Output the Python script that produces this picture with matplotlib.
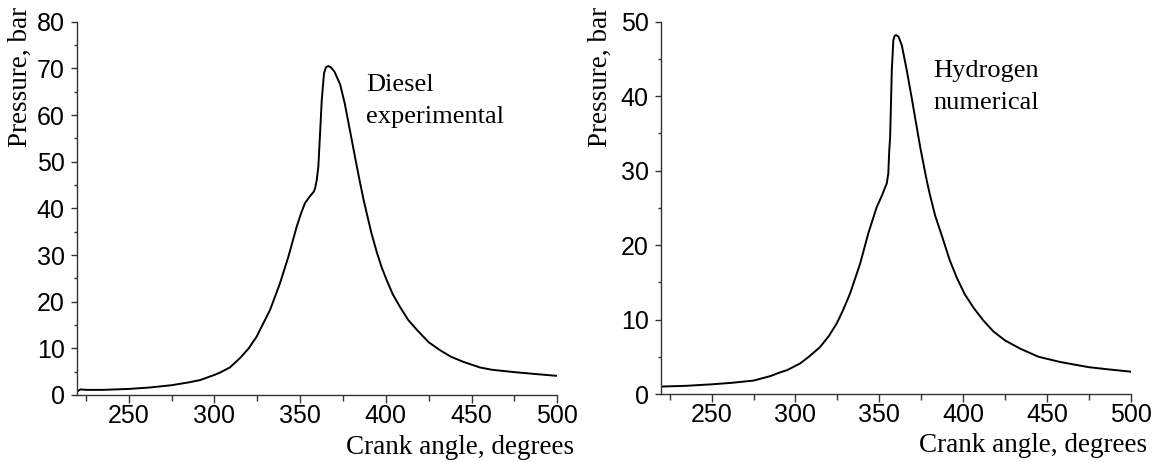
import matplotlib
matplotlib.use("Agg")
import matplotlib.pyplot as plt
from matplotlib.ticker import MultipleLocator

# Diesel, experimental (left panel)
diesel_angle = [220, 222, 225, 235, 250, 262, 275, 285, 291.6, 300, 303.2, 309,
                314.9, 320, 324.6, 328, 332.4, 338.2, 343.1, 348, 350.5, 352.8,
                355.5, 358.0, 358.7, 359.7, 360.6, 361.6, 362.6, 363.9, 365.0,
                366.4, 368.0, 370.0, 373.3, 376.0, 379.1, 382.0, 384.5, 386.9,
                388.8, 391.5, 394.7, 397.5, 400.5, 404.0, 408.2, 413.0, 418,
                425, 431.6, 438, 445.2, 454.9, 462, 475, 487, 500]
diesel_p = [0.8, 1.2, 1.1, 1.1, 1.3, 1.6, 2.1, 2.7, 3.2, 4.3, 4.8, 5.9,
            7.9, 10.0, 12.5, 15.0, 18.2, 23.9, 29.6, 36.1, 38.9, 41.1,
            42.5, 43.6, 44.3, 46.1, 48.9, 56.0, 63.2, 68.9, 70.2,
            70.5, 70.2, 69.3, 66.6, 62.5, 56.6, 51.0, 46.3, 42.0,
            39.0, 34.8, 30.6, 27.4, 24.6, 21.6, 18.9, 16.1, 14.0,
            11.3, 9.6, 8.2, 7.1, 5.9, 5.4, 4.9, 4.5, 4.1]

# Hydrogen, numerical (right panel)
h2_angle = [220, 235, 250, 262, 275, 285, 290.8, 295, 302.8, 308, 314.7, 320,
            324.7, 328.5, 332.6, 338.6, 343.5, 348.5, 351.5, 354.5, 355.4,
            356.0, 356.5, 357.5, 358.4, 359.2, 360.0, 361.5, 363.5, 366.4,
            369.5, 372.4, 374.4, 378.4, 380.3, 383.3, 388.3, 392, 396.3, 401,
            406.2, 412, 418.1, 425, 434, 445, 457.9, 475, 487, 500]
h2_p = [1.0, 1.1, 1.3, 1.5, 1.8, 2.4, 2.9, 3.2, 4.1, 5.0, 6.3, 7.8,
        9.5, 11.3, 13.5, 17.5, 21.6, 25.1, 26.6, 28.3, 29.6,
        32.8, 34.5, 43.5, 47.5, 48.1, 48.2, 48.0, 46.8, 43.5,
        39.6, 35.8, 33.2, 28.6, 26.7, 24.0, 20.6, 18.0, 15.6, 13.4,
        11.6, 9.9, 8.4, 7.2, 6.1, 5.0, 4.3, 3.6, 3.3, 3.0]

SANS = "Liberation Sans"
SERIF = "Liberation Serif"
AXC = "#333333"

fig = plt.figure(figsize=(11.57, 4.62), dpi=100)
W, H = 1157, 462
ax1 = fig.add_axes([77.3 / W, (H - 395) / H, 480 / W, 373.3 / H])
ax2 = fig.add_axes([661.3 / W, (H - 394) / H, 469.4 / W, 372.3 / H])


def style(ax, ymax, label_x, note, note_xy):
    ax.set_xlim(220, 500)
    ax.set_ylim(0, ymax)
    ax.xaxis.set_major_locator(MultipleLocator(50))
    ax.xaxis.set_minor_locator(MultipleLocator(25))
    ax.yaxis.set_major_locator(MultipleLocator(10))
    ax.yaxis.set_minor_locator(MultipleLocator(5))
    for s in ["top", "right"]:
        ax.spines[s].set_visible(False)
    for s in ["left", "bottom"]:
        ax.spines[s].set_color(AXC)
        ax.spines[s].set_linewidth(1.0)
    ax.tick_params(axis="x", which="major", direction="out", length=5.5,
                   width=1, color=AXC, pad=1, labelsize=18)
    ax.tick_params(axis="x", which="minor", direction="out", length=4,
                   width=1, color=AXC)
    ax.tick_params(axis="y", which="major", direction="out", length=4,
                   width=1, color=AXC, pad=5, labelsize=18)
    ax.tick_params(axis="y", which="minor", direction="out", length=2.5,
                   width=1, color=AXC)
    for t in ax.get_xticklabels() + ax.get_yticklabels():
        t.set_fontfamily(SANS)

    ax.set_xlabel("Crank angle, degrees", fontfamily=SERIF, fontsize=19.5,
                  ha="right")
    ax.xaxis.set_label_coords(1.036, -0.106)
    ax.set_ylabel("Pressure, bar", fontfamily=SERIF, fontsize=19.5, ha="right")
    ax.yaxis.set_label_coords(label_x, 1.04)

    ax.text(note_xy[0], note_xy[1], note, fontfamily=SERIF, fontsize=19,
            ha="left", va="top", linespacing=1.6)


ax1.plot(diesel_angle, diesel_p, color="black", lw=1.4)
style(ax1, 80, -0.092, "Diesel\nexperimental", (388.4, 68.8))

ax2.plot(h2_angle, h2_p, color="black", lw=1.4)
style(ax2, 50, -0.103, "Hydrogen\nnumerical", (382.3, 44.9))

fig.savefig("out.png", dpi=100)
